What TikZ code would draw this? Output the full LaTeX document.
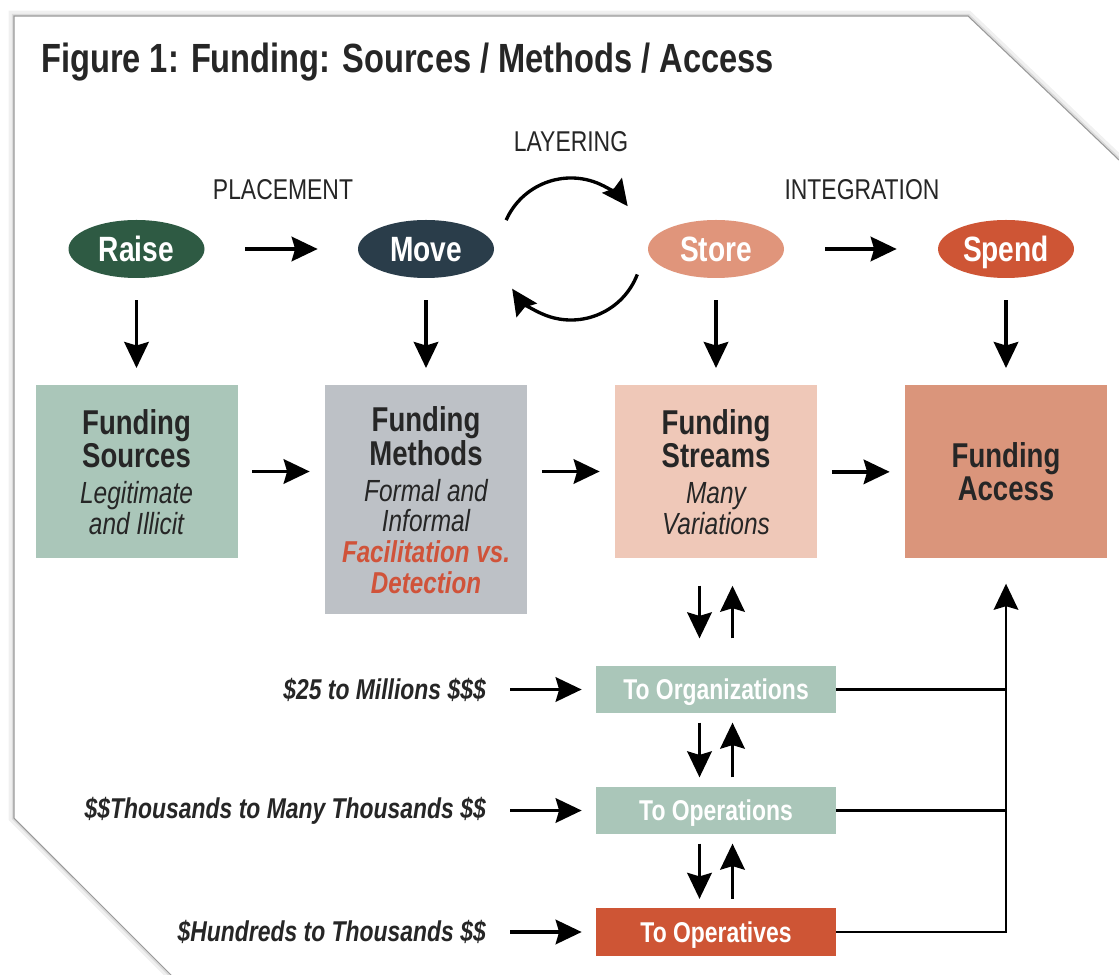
\documentclass[tikz,border=0pt]{standalone}
\usepackage{fontspec}
\setmainfont{Liberation Sans}[FakeStretch=0.8]
\usetikzlibrary{arrows.meta,shapes.geometric}
\newcommand{\fundarrow}{Stealth[length=5.2mm, width=4.9mm, inset=0.7mm]}
\newcommand{\fundhead}[1]{{\fontsize{19.6}{17.5}\selectfont\bfseries #1}}
\newcommand{\fundsub}[1]{{\fontsize{17.4}{17.5}\selectfont\itshape #1}}
\newcommand{\fundred}[1]{{\fontsize{17.2}{17.5}\selectfont\bfseries\itshape\color{facilred}#1}}
\definecolor{raisegreen}{HTML}{2E5A43}
\definecolor{moveslate}{HTML}{2A3D4A}
\definecolor{storesalmon}{HTML}{E0957B}
\definecolor{spendred}{HTML}{CE5535}
\definecolor{sourcesage}{HTML}{AAC6B9}
\definecolor{methodgray}{HTML}{BDC1C6}
\definecolor{streampeach}{HTML}{EFC8B8}
\definecolor{accesssalmon}{HTML}{DA957B}
\definecolor{facilred}{HTML}{D0533A}
\definecolor{textdark}{HTML}{262626}
\tikzset{
  stage/.style={ellipse, fill=#1, text=white, inner sep=0pt,
    minimum width=2.72cm, minimum height=1.16cm,
    text height=14.3pt, text depth=0pt,
    font=\fontsize{20}{22}\selectfont\bfseries},
  fundbox/.style={fill=#1, text=textdark, align=center, anchor=north,
    minimum width=4.04cm, minimum height=3.46cm, inner sep=0pt,
    font=\fontsize{17}{17.5}\selectfont},
  tobox/.style={fill=#1, text=white, inner sep=0pt,
    minimum width=4.8cm, minimum height=0.95cm,
    text height=11.7pt, text depth=0pt,
    font=\fontsize{16.3}{18}\selectfont\bfseries},
  phase/.style={text=textdark, font=\fontsize{16.3}{18}\selectfont},
  amount/.style={anchor=east, text=textdark,
    font=\fontsize{16.3}{18}\selectfont\bfseries\itshape},
  flow/.style={-\fundarrow, line width=1.9pt},
}

\begin{document}
\begin{tikzpicture}
  % General frame is (0,0) to (22.38,19.48)
  \useasboundingbox (0,0) rectangle (22.38,19.48);

  % sheet with cut corners
  \draw[black!6, line width=6pt] (3.6,-0.2) -- (0.28,3.12) -- (0.28,19.16) -- (19.36,19.16) -- (22.6,16.07);
  \draw[black!14, line width=2.5pt] (3.6,-0.2) -- (0.28,3.12) -- (0.28,19.16) -- (19.36,19.16) -- (22.6,16.07);
  \fill[white] (3.6,-0.2) -- (0.28,3.12) -- (0.28,19.16) -- (19.36,19.16) -- (22.6,16.07) -- (22.6,-0.2) -- cycle;
  \draw[black!40, line width=0.6pt] (3.6,-0.2) -- (0.28,3.12) -- (0.28,19.16) -- (19.36,19.16) -- (22.6,16.07);

  % title
  \node[anchor=west, text=textdark, font=\fontsize{23.2}{26}\selectfont\bfseries] (title) at (0.7,18.24)
    {Figure 1: Funding: Sources / Methods / Access};

  % stages
  \node[stage=raisegreen] (raise) at (2.73,14.5) {Raise};
  \node[stage=moveslate] (move) at (8.52,14.5) {Move};
  \node[stage=storesalmon] (store) at (14.32,14.5) {Store};
  \node[stage=spendred] (spend) at (20.12,14.5) {Spend};

  \node[phase] (placement) at (5.66,15.68) {PLACEMENT};
  \node[phase] (layering) at (11.42,16.64) {LAYERING};
  \node[phase] (integration) at (17.24,15.68) {INTEGRATION};

  \draw[flow, shorten <=0.81cm, shorten >=0.8cm] (raise) -- (move);
  \draw[flow, shorten <=0.82cm, shorten >=0.82cm] (store) -- (spend);

  % layering loop
  \coordinate (loop) at (11.42,14.5);
  \draw[flow] ([shift={(156:1.42)}]loop) arc[start angle=156, end angle=37, radius=1.42];
  \draw[flow] ([shift={(-21:1.42)}]loop) arc[start angle=-21, end angle=-146, radius=1.42];

  % funding boxes
  \node[fundbox=sourcesage] (sources) at (2.73,11.78)
    {\fundhead{Funding}\\\fundhead{Sources}\\[3pt]\fundsub{Legitimate}\\\fundsub{and Illicit}};
  \node[fundbox=methodgray, minimum height=4.58cm] (methods) at (8.52,11.78)
    {\fundhead{Funding}\\\fundhead{Methods}\\[3pt]\fundsub{Formal and}\\\fundsub{Informal}\\\fundred{Facilitation vs.}\\\fundred{Detection}};
  \node[fundbox=streampeach] (streams) at (14.32,11.78)
    {\fundhead{Funding}\\\fundhead{Streams}\\[3pt]\fundsub{Many}\\\fundsub{Variations}};
  \node[fundbox=accesssalmon] (access) at (20.12,11.78)
    {\fundhead{Funding}\\\fundhead{Access}};

  \foreach \s/\b in {raise/sources, move/methods, store/streams, spend/access}{
    \draw[flow, shorten <=0.44cm, shorten >=0.34cm] (\s) -- (\b);
  }
  \draw[flow, shorten <=0.29cm, shorten >=0.3cm] (sources.east |- 0,10.05) -- (methods.west |- 0,10.05);
  \draw[flow, shorten <=0.29cm, shorten >=0.3cm] (methods.east |- 0,10.05) -- (streams.west |- 0,10.05);
  \draw[flow, shorten <=0.29cm, shorten >=0.3cm] (streams) -- (access);

  % recipients
  \node[tobox=sourcesage] (org) at (14.32,5.69) {To Organizations};
  \node[tobox=sourcesage] (ops) at (14.32,3.27) {To Operations};
  \node[tobox=spendred] (opv) at (14.32,0.84) {To Operatives};

  \foreach \a/\b/\g in {streams/org/0.54cm, org/ops/0.18cm, ops/opv/0.18cm}{
    \draw[flow, shorten <=\g, shorten >=\g] ([xshift=-0.33cm]\a.south) -- ([xshift=-0.33cm]\b.north);
    \draw[flow, shorten <=\g, shorten >=\g] ([xshift=0.33cm]\b.north) -- ([xshift=0.33cm]\a.south);
  }

  % amounts
  \node[amount] (amtorg) at (9.84,5.69) {\$25 to Millions \$\$\$};
  \node[amount] (amtops) at (9.84,3.27) {\$\$Thousands to Many Thousands \$\$};
  \node[amount] (amtopv) at (9.84,0.84) {\$Hundreds to Thousands \$\$};
  \draw[flow, shorten <=0.36cm, shorten >=0.28cm] (amtorg.east) -- (org.west);
  \draw[flow, shorten <=0.36cm, shorten >=0.28cm] (amtops.east) -- (ops.west);
  \draw[flow, shorten <=0.36cm, shorten >=0.28cm] (amtopv.east) -- (opv.west);

  % back to access
  \draw[line width=1.6pt] (org.east) -- (org.east -| access.south);
  \draw[line width=1.6pt] (ops.east) -- (ops.east -| access.south);
  \draw[-\fundarrow, line width=1.6pt, shorten >=0.5cm] (opv.east) -| (access.south);
\end{tikzpicture}
\end{document}
